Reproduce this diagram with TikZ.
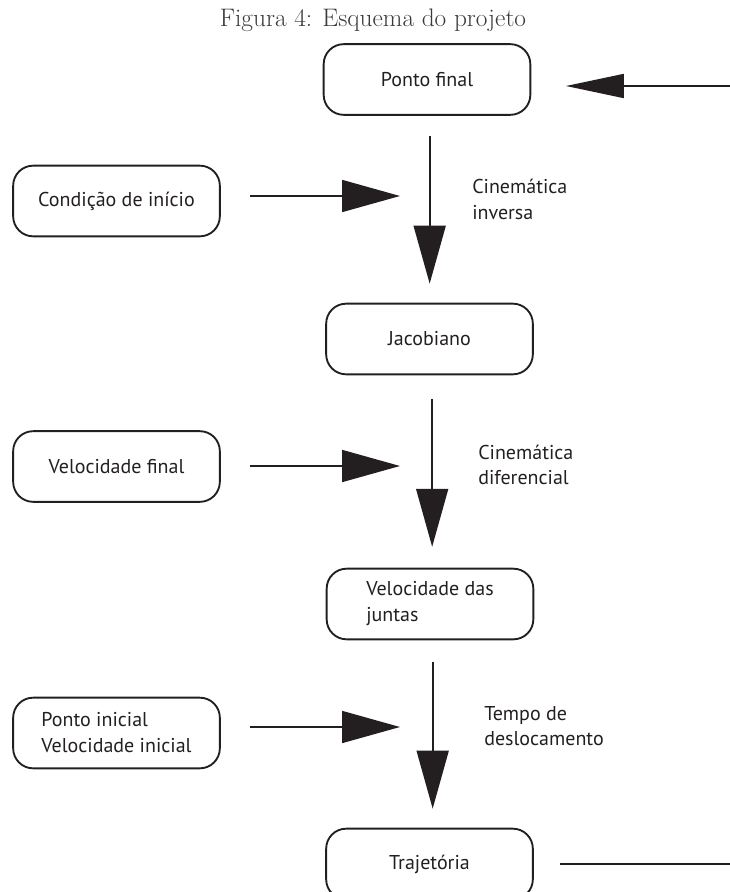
\documentclass[tikz,border=0pt]{standalone}
\usepackage{fontspec}
\newfontfamily\sanf{PT Sans}
\usetikzlibrary{arrows.meta}
\definecolor{ink}{HTML}{231F20}
\definecolor{capc}{HTML}{3A3A3A}
\begin{document}
\begin{tikzpicture}[x=0.75pt,y=-0.75pt,
  box/.style={draw=ink, line width=1.4pt, rounded corners=15pt, minimum width=155pt,
    minimum height=53pt, inner sep=0pt, align=left, text=ink,
    font=\sanf\fontsize{15}{19.5}\selectfont},
  lbl/.style={anchor=west, align=left, inner sep=0pt, text=ink,
    font=\sanf\fontsize{15}{19}\selectfont},
  conn/.style={draw=ink, line width=1.3pt, -{Triangle[length=43.5pt,width=24pt]}},
  conntop/.style={draw=ink, line width=1.3pt, -{Triangle[length=43.5pt,width=18pt]}},
  plain/.style={draw=ink, line width=1.3pt}]
\useasboundingbox (0,0) rectangle (730,892);
\clip (0,0) rectangle (730,892);
\node[text=capc, inner sep=0pt, font=\fontsize{19}{23}\selectfont] (title) at (373,20) {Figura 4: Esquema do projeto};

\node[box] (pf) at (427,79.5) {Ponto final};
\node[box] (jac) at (429.5,339) {Jacobiano};
\node[box] (vj) at (430,604) {Velocidade das\\juntas};
\node[box] (traj) at (429.5,864) {Trajetória};
\node[box] (cond) at (116.5,201) {Condição de início};
\node[box] (vf) at (116.5,466.5) {Velocidade final};
\node[box] (pi) at (116.5,733) {Ponto inicial\\Velocidade inicial};

\node[lbl] (l1) at (472,199.5) {Cinemática\\inversa};
\node[lbl] (l2) at (478,465) {Cinemática\\diferencial};
\node[lbl] (l3) at (484,726) {Tempo de\\deslocamento};

\draw[conn, shorten <=15.5pt, shorten >=14.3pt] ([xshift=2pt]pf.south) -- ([xshift=2pt]pf.south |- jac.north);
\draw[conn, shorten <=18pt, shorten >=15.7pt] ([xshift=2pt]jac.south) -- ([xshift=2pt]jac.south |- vj.north);
\draw[conn, shorten <=16.5pt, shorten >=14.3pt] ([xshift=2pt]vj.south) -- ([xshift=2pt]vj.south |- traj.north);

\coordinate (h1) at (400,196);
\coordinate (h2) at (400,466);
\coordinate (h3) at (400,727);
\draw[conn, shorten <=21.75pt] (cond.east |- h1) -- (h1);
\draw[conn, shorten <=21.75pt] (vf.east |- h2) -- (h2);
\draw[conn, shorten <=21.75pt] (pi.east |- h3) -- (h3);

\coordinate (tr) at (730,86);
\draw[conntop, shorten >=26pt] (tr) -- (pf.east |- tr);
\coordinate (br) at (730,864);
\draw[plain, shorten <=20pt] (traj.east) -- (br);
\end{tikzpicture}
\end{document}
